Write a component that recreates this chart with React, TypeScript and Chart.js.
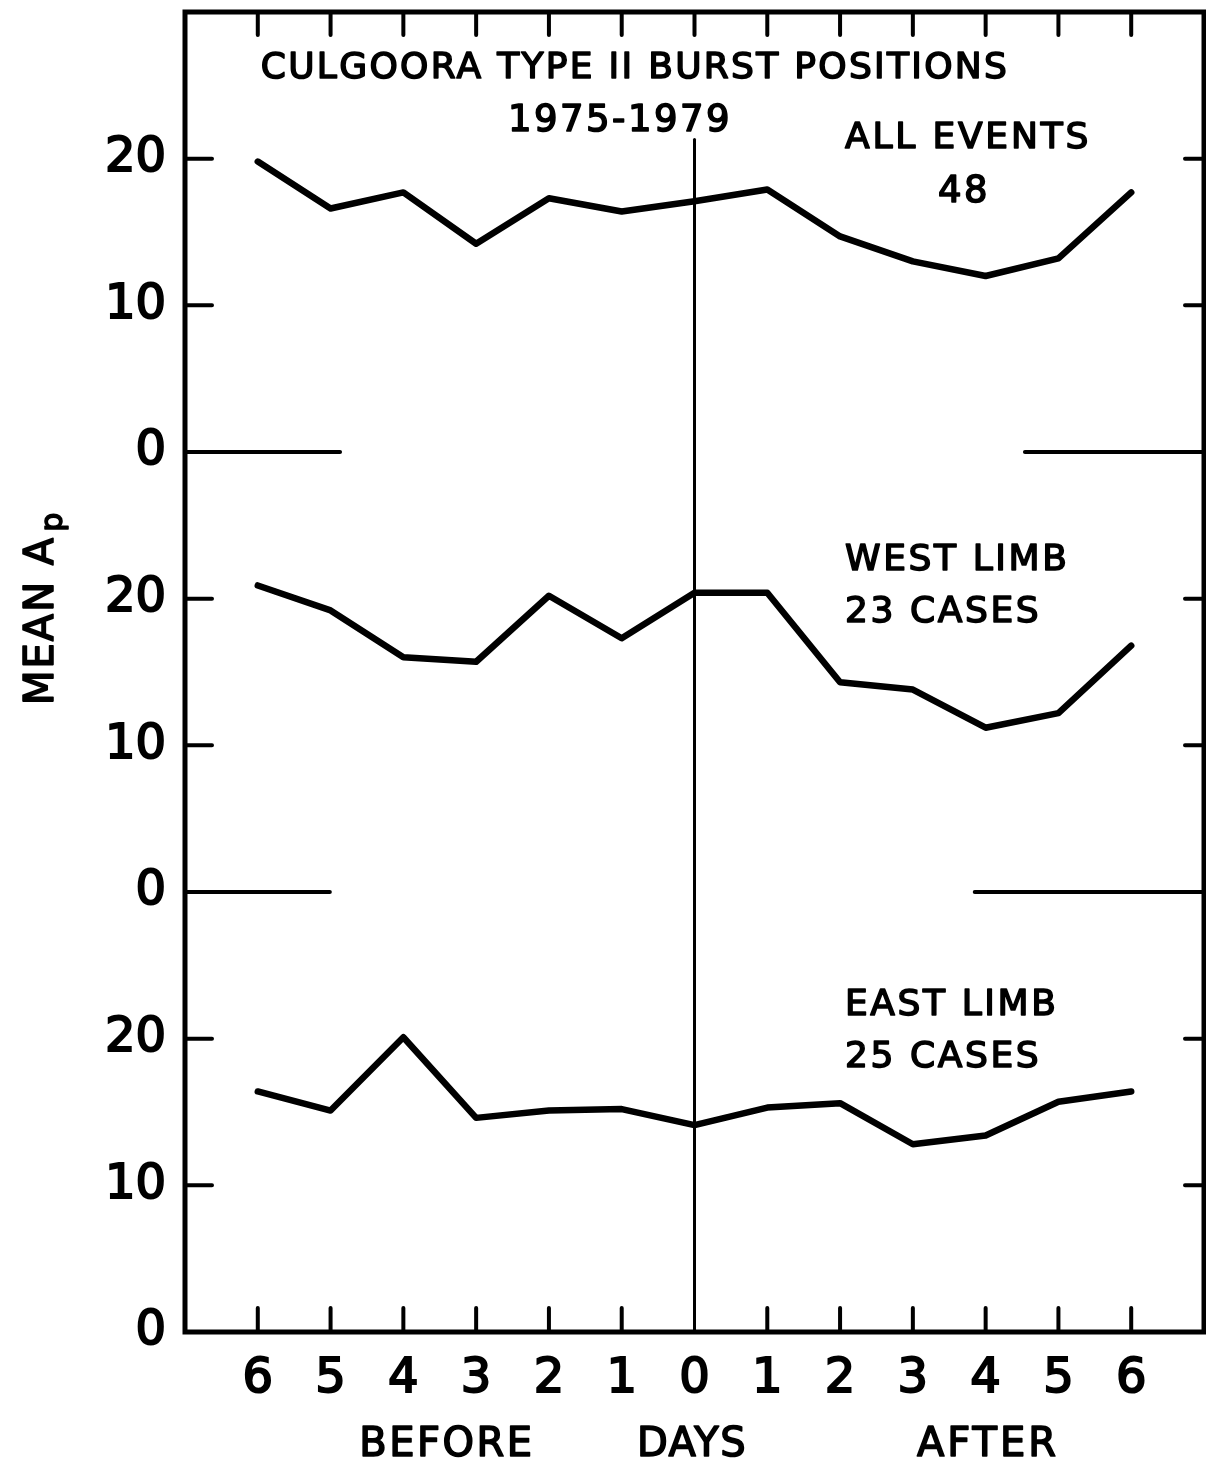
import React, { useEffect, useRef } from 'react';
import { Chart, registerables } from 'chart.js';

Chart.register(...registerables);

// ---- data ----
const DAYS = [-6, -5, -4, -3, -2, -1, 0, 1, 2, 3, 4, 5, 6];
const DAY_LABELS = ['6', '5', '4', '3', '2', '1', '0', '1', '2', '3', '4', '5', '6'];
const ALL_EVENTS = [19.8, 16.6, 17.7, 14.2, 17.3, 16.4, 17.1, 17.9, 14.7, 13.0, 12.0, 13.2, 17.7];
const WEST_LIMB = [20.9, 19.2, 16.0, 15.7, 20.2, 17.3, 20.4, 20.4, 14.3, 13.8, 11.2, 12.2, 16.8];
const EAST_LIMB = [16.4, 15.1, 20.1, 14.6, 15.1, 15.2, 14.1, 15.3, 15.6, 12.8, 13.4, 15.7, 16.4];
// vertical offsets of the three stacked panels (all events, west limb, east limb)
const PANEL_OFFSETS = [60, 30, 0];
const Y_TICK_VALUES = [0, 10, 20, 30, 40, 50, 60, 70, 80];
const Y_TICK_LABELS = ['0', '10', '20', '0', '10', '20', '0', '10', '20'];
const FRAME_TICK_VALUES = [10, 20, 40, 50, 70, 80];
const X_MIN = -7;
const X_MAX = 7;
const Y_MIN = 0;
const Y_MAX = 90;
// partial zero lines of the upper panels: [level, left segment end (day), right segment start (day)]
const ZERO_LINES = [
  [60, -4.87, 4.54],
  [30, -5.01, 3.85],
];
const CENTER_LINE_TOP = 81.3;

const FONT = "'DejaVu Sans', sans-serif";

function drawText(
  ctx: CanvasRenderingContext2D,
  str: string,
  x: number,
  y: number,
  align: CanvasTextAlign,
  size: number,
  spacing: number
) {
  ctx.font = `${size}px ${FONT}`;
  (ctx as any).letterSpacing = `${spacing}px`;
  ctx.textAlign = align;
  ctx.textBaseline = 'alphabetic';
  ctx.lineWidth = 1.6;
  ctx.lineJoin = 'round';
  ctx.strokeStyle = '#000';
  ctx.fillText(str, x, y);
  ctx.strokeText(str, x, y);
  (ctx as any).letterSpacing = '0px';
}

const decorPlugin = {
  id: 'decor',
  beforeDraw(chart: any) {
    const { ctx, width, height } = chart;
    ctx.save();
    ctx.fillStyle = '#fff';
    ctx.fillRect(0, 0, width, height);
    ctx.restore();
  },
  beforeDatasetsDraw(chart: any) {
    const { ctx, chartArea: a, scales } = chart;
    const x = scales.x;
    const y = scales.y;
    ctx.save();
    ctx.strokeStyle = '#000';
    ctx.lineCap = 'round';

    // vertical line at day 0
    const x0 = x.getPixelForValue(0);
    ctx.lineWidth = 3;
    ctx.beginPath();
    ctx.moveTo(x0, y.getPixelForValue(CENTER_LINE_TOP));
    ctx.lineTo(x0, a.bottom);
    ctx.stroke();

    // zero lines of upper panels
    ctx.lineWidth = 4;
    for (const [lvl, l, r] of ZERO_LINES) {
      const py = y.getPixelForValue(lvl);
      ctx.beginPath();
      ctx.moveTo(a.left, py);
      ctx.lineTo(x.getPixelForValue(l), py);
      ctx.moveTo(x.getPixelForValue(r), py);
      ctx.lineTo(a.right, py);
      ctx.stroke();
    }

    // inward ticks on left and right frame
    ctx.lineWidth = 4;
    for (const v of FRAME_TICK_VALUES) {
      const py = y.getPixelForValue(v);
      ctx.beginPath();
      ctx.moveTo(a.left, py);
      ctx.lineTo(a.left + 27, py);
      ctx.moveTo(a.right, py);
      ctx.lineTo(a.right - 19, py);
      ctx.stroke();
    }
    // inward ticks on top and bottom frame
    for (const d of DAYS) {
      const px = x.getPixelForValue(d);
      ctx.beginPath();
      ctx.moveTo(px, a.top);
      ctx.lineTo(px, a.top + 23);
      if (d !== 0) {
        ctx.moveTo(px, a.bottom);
        ctx.lineTo(px, a.bottom - 24);
      }
      ctx.stroke();
    }

    // frame
    ctx.lineCap = 'butt';
    ctx.lineJoin = 'miter';
    ctx.lineWidth = 5;
    ctx.strokeRect(a.left, a.top, a.right - a.left, a.bottom - a.top);
    ctx.restore();
  },
  afterDraw(chart: any) {
    const { ctx } = chart;
    ctx.save();
    ctx.fillStyle = '#000';
    drawText(ctx, 'CULGOORA TYPE II BURST POSITIONS', 635, 78, 'center', 36, 2.3);
    drawText(ctx, '1975-1979', 620, 131, 'center', 37, 2.5);
    drawText(ctx, 'ALL EVENTS', 845, 148, 'left', 36, 2.8);
    drawText(ctx, '48', 964, 202, 'center', 37, 2.5);
    drawText(ctx, 'WEST LIMB', 845, 570, 'left', 36, 2.6);
    drawText(ctx, '23 CASES', 845, 622, 'left', 36, 2.6);
    drawText(ctx, 'EAST LIMB', 845, 1015, 'left', 36, 2.6);
    drawText(ctx, '25 CASES', 845, 1067, 'left', 36, 2.6);
    drawText(ctx, 'BEFORE', 447, 1456, 'center', 40, 2.5);
    drawText(ctx, 'DAYS', 692, 1456, 'center', 40, 1.5);
    drawText(ctx, 'AFTER', 988, 1456, 'center', 40, 3);

    // rotated y-axis title with subscript
    ctx.translate(53, 705);
    ctx.rotate(-Math.PI / 2);
    ctx.font = `40px ${FONT}`;
    (ctx as any).letterSpacing = '2px';
    ctx.textAlign = 'left';
    ctx.textBaseline = 'alphabetic';
    ctx.lineWidth = 1.6;
    ctx.strokeStyle = '#000';
    const main = 'MEAN A';
    ctx.fillText(main, 0, 0);
    ctx.strokeText(main, 0, 0);
    const w = ctx.measureText(main).width;
    ctx.font = `30px ${FONT}`;
    ctx.fillText('p', w + 4, 9);
    ctx.strokeText('p', w + 4, 9);
    (ctx as any).letterSpacing = '0px';
    ctx.restore();
  },
};

function series(values: number[], offset: number) {
  return DAYS.map((d, i) => ({ x: d, y: values[i] + offset }));
}

export default function App() {
  const ref = useRef<HTMLCanvasElement | null>(null);

  useEffect(() => {
    document.body.style.margin = '0';
    const canvas = ref.current;
    if (!canvas) return;
    const lineStyle = {
      borderColor: '#000',
      borderWidth: 6.5,
      pointRadius: 0,
      tension: 0,
      borderJoinStyle: 'round' as const,
      borderCapStyle: 'round' as const,
      fill: false,
    };
    const tickFont = { family: FONT, size: 48 };
    const chart = new Chart(canvas, {
      type: 'line',
      data: {
        datasets: [
          { label: 'All events', data: series(ALL_EVENTS, PANEL_OFFSETS[0]), ...lineStyle },
          { label: 'West limb', data: series(WEST_LIMB, PANEL_OFFSETS[1]), ...lineStyle },
          { label: 'East limb', data: series(EAST_LIMB, PANEL_OFFSETS[2]), ...lineStyle },
        ],
      },
      options: {
        responsive: false,
        animation: false,
        devicePixelRatio: 1,
        layout: { padding: { top: 12, right: 2, left: 0, bottom: 0 } },
        plugins: { legend: { display: false }, tooltip: { enabled: false }, title: { display: false } },
        scales: {
          x: {
            type: 'linear',
            min: X_MIN,
            max: X_MAX,
            grid: { display: false, drawTicks: false },
            border: { display: false },
            afterBuildTicks: (s: any) => {
              s.ticks = DAYS.map((v) => ({ value: v }));
            },
            afterFit: (s: any) => {
              s.height = 132;
              s.paddingLeft = 0;
              s.paddingRight = 0;
            },
            ticks: {
              autoSkip: false,
              maxRotation: 0,
              padding: 19,
              color: '#000',
              textStrokeColor: '#000',
              textStrokeWidth: 2,
              font: tickFont,
              callback: (v: any) => {
                const i = DAYS.indexOf(Number(v));
                return i >= 0 ? DAY_LABELS[i] : '';
              },
            },
          },
          y: {
            type: 'linear',
            min: Y_MIN,
            max: Y_MAX,
            grid: { display: false, drawTicks: false },
            border: { display: false },
            afterBuildTicks: (s: any) => {
              s.ticks = Y_TICK_VALUES.map((v) => ({ value: v }));
            },
            afterFit: (s: any) => {
              s.width = 185;
              s.paddingTop = 0;
              s.paddingBottom = 0;
            },
            ticks: {
              autoSkip: false,
              padding: 19,
              color: '#000',
              textStrokeColor: '#000',
              textStrokeWidth: 2,
              font: tickFont,
              callback: (v: any) => {
                const i = Y_TICK_VALUES.indexOf(Number(v));
                return i >= 0 ? Y_TICK_LABELS[i] : '';
              },
            },
          },
        },
      },
      plugins: [decorPlugin],
    });
    return () => chart.destroy();
  }, []);

  return <canvas ref={ref} width={1206} height={1464} style={{ display: 'block' }} />;
}
